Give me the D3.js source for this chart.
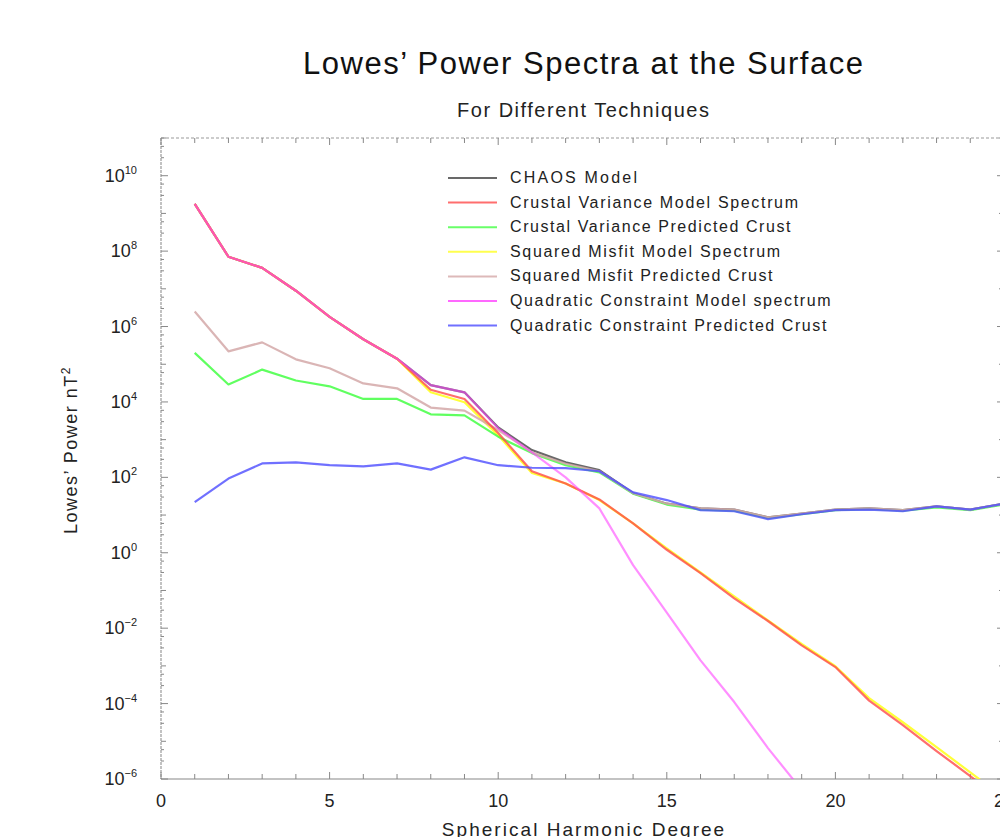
<!DOCTYPE html>
<html><head><meta charset="utf-8">
<script src="https://cdn.jsdelivr.net/npm/d3@7"></script>
<style>body{margin:0;background:#fff;} svg{display:block;font-family:"Liberation Sans",Arial,sans-serif;}</style>
</head><body>
<svg id="c" width="1000" height="837"></svg>
<script>
const degrees = d3.range(1, 26);
const chaos     = [1.8e9,7.1e7,3.6e7,8.9e6,1.8e6,4.6e5,1.4e5,2.8e4,1.8e4,2.1e3,530,250,155,38,20,15,14,8.7,11,14,15,13.5,17,14,20];
const cvModel   = [1.8e9,7.1e7,3.6e7,8.9e6,1.8e6,4.6e5,1.4e5,2.1e4,1.2e4,1.5e3,145,69,26,6.0,1.2,0.29,0.062,0.0155,0.0035,9.3e-4,1.2e-4,2.7e-5,5.5e-6,1.2e-6,2.3e-7];
const cvCrust   = [2.0e5,2.9e4,7.2e4,3.7e4,2.6e4,1.2e4,1.2e4,4.7e3,4.4e3,1.2e3,440,210,135,37,19,14,13,8.3,10.5,13.5,14.5,13,16,13.5,19];
const smModel   = [1.8e9,7.1e7,3.6e7,8.9e6,1.8e6,4.6e5,1.4e5,1.8e4,9.8e3,1.3e3,130,69,25,6.0,1.3,0.30,0.070,0.016,0.0038,9.8e-4,1.4e-4,3.2e-5,7.0e-6,1.5e-6,3.2e-7];
const smCrust   = [2.5e6,2.2e5,3.8e5,1.35e5,7.8e4,3.1e4,2.3e4,7.1e3,5.9e3,1.8e3,460,230,145,38,20,15,14,8.7,11,14,15,13.5,17,14,20];
const qcModel   = [1.8e9,7.1e7,3.6e7,8.9e6,1.8e6,4.6e5,1.4e5,2.8e4,1.8e4,2.0e3,460,100,15,0.47,0.026,1.4e-3,1.1e-4,6.6e-6,5.1e-7,4.5e-8];
const qcCrust   = [22,93,234,250,210,195,234,160,340,210,180,175,145,40,25,13.5,12.6,7.8,10.5,13.5,14,12.6,17,14,20];

const seriesNames = ["CHAOS Model","Crustal Variance Model Spectrum","Crustal Variance Predicted Crust","Squared Misfit Model Spectrum","Squared Misfit Predicted Crust","Quadratic Constraint Model spectrum","Quadratic Constraint Predicted Crust"];
const seriesValues = [chaos, cvModel, cvCrust, smModel, smCrust, qcModel, qcCrust];
const seriesColors = ["#444444","#ff4a4a","#44ff44","#ffff22","#d4a8a8","#ff44ff","#4c4cff"];
const drawOrder = [0,3,2,4,1,5,6];
const seriesOpacity = [0.8,0.8,0.85,0.9,0.85,0.6,0.8];
const xTicks = [0,5,10,15,20,25];
const yTickExps = [-6,-4,-2,0,2,4,6,8,10];

const svg = d3.select("#c");
const x = d3.scaleLinear().domain([0,25]).range([161,1004]);
const y = d3.scaleLog().domain([1e-6,1e11]).range([779,138]);

// stretch a text element to a target width (reference typeface is wider)
function stretch(sel, factor){
  sel.each(function(){
    const w = this.getComputedTextLength();
    d3.select(this).attr("textLength", w*factor).attr("lengthAdjust","spacing");
  });
}

const defs = svg.append("defs");
defs.append("clipPath").attr("id","clip").append("rect")
  .attr("x",x(0)).attr("y",y(1e11)).attr("width",x(25)-x(0)).attr("height",y(1e-6)-y(1e11));

// frame
const frame = svg.append("g").attr("stroke","#9a9a9a").attr("stroke-width",1.2).attr("fill","none");
frame.append("line").attr("x1",x(0)).attr("x2",x(25)).attr("y1",y(1e11)).attr("y2",y(1e11)).attr("stroke-dasharray","3,2");
frame.append("line").attr("x1",x(0)).attr("x2",x(0)).attr("y1",y(1e11)).attr("y2",y(1e-6)).attr("stroke-dasharray","3,1");
frame.append("line").attr("x1",x(0)).attr("x2",x(25)).attr("y1",y(1e-6)).attr("y2",y(1e-6)).attr("stroke","#888");
frame.append("line").attr("x1",x(25)).attr("x2",x(25)).attr("y1",y(1e11)).attr("y2",y(1e-6)).attr("stroke-dasharray","3,1");

// ticks (inward)
const tk = svg.append("g").attr("stroke","#888").attr("stroke-width",1);
d3.range(0,26).forEach(v=>{
  const L = v%5===0?7:5;
  tk.append("line").attr("x1",x(v)).attr("x2",x(v)).attr("y1",y(1e-6)).attr("y2",y(1e-6)-L);
  tk.append("line").attr("x1",x(v)).attr("x2",x(v)).attr("y1",y(1e11)).attr("y2",y(1e11)+L);
});
for(let e=-6;e<=11;e++){
  const L = (e%2===0)?7:5;
  tk.append("line").attr("x1",x(0)).attr("x2",x(0)+L).attr("y1",y(Math.pow(10,e))).attr("y2",y(Math.pow(10,e)));
  tk.append("line").attr("x1",x(25)).attr("x2",x(25)-L).attr("y1",y(Math.pow(10,e))).attr("y2",y(Math.pow(10,e)));
  if(e<11){
    [3,6].forEach(m=>{
      const yy=y(m*Math.pow(10,e));
      tk.append("line").attr("x1",x(0)).attr("x2",x(0)+3).attr("y1",yy).attr("y2",yy);
      tk.append("line").attr("x1",x(25)).attr("x2",x(25)-3).attr("y1",yy).attr("y2",yy);
    });
  }
}

// x tick labels
svg.append("g").selectAll("text").data(xTicks).join("text")
  .attr("x",d=>x(d)).attr("y",807).attr("text-anchor","middle")
  .attr("font-size",18).attr("fill","#222").text(d=>d);

// y tick labels 10^e
const yl = svg.append("g").selectAll("text").data(yTickExps).join("text")
  .attr("x",137).attr("y",d=>y(Math.pow(10,d))+6).attr("text-anchor","end")
  .attr("font-size",18).attr("fill","#222");
yl.append("tspan").text("10");
yl.append("tspan").attr("dy",-8).attr("font-size",11).text(d=>d<0?"\u2212"+(-d):String(d));

// lines
const line = d3.line().x((d,i)=>x(degrees[i])).y(d=>y(d));
const lg = svg.append("g").attr("clip-path","url(#clip)");
drawOrder.forEach(k=>{
  lg.append("path").datum(seriesValues[k]).attr("d",line)
    .attr("fill","none").attr("stroke",seriesColors[k]).attr("stroke-width",2.2)
    .attr("stroke-opacity",seriesOpacity[k]).attr("stroke-linejoin","round");
});

// legend
const leg = svg.append("g");
seriesNames.forEach((n,i)=>{
  const yy = 178 + i*24.6;
  leg.append("line").attr("x1",448).attr("x2",497).attr("y1",yy).attr("y2",yy)
    .attr("stroke",seriesColors[i]).attr("stroke-width",2).attr("stroke-opacity",0.8);
  const t = leg.append("text").attr("x",510).attr("y",yy+5).attr("font-size",16).attr("fill","#222").text(n);
  stretch(t, 1.21);
});

// titles
const t1 = svg.append("text").attr("x",583).attr("y",74).attr("text-anchor","middle").attr("font-size",31).attr("fill","#111")
  .text("Lowes\u2019 Power Spectra at the Surface");
stretch(t1, 1.1);
const t2 = svg.append("text").attr("x",583).attr("y",117).attr("text-anchor","middle").attr("font-size",20).attr("fill","#222")
  .text("For Different Techniques");
stretch(t2, 1.16);
const t3 = svg.append("text").attr("x",583).attr("y",836).attr("text-anchor","middle").attr("font-size",19).attr("fill","#222")
  .text("Spherical Harmonic Degree");
stretch(t3, 1.21);
const yt = svg.append("text").attr("transform","translate(77,450) rotate(-90)").attr("text-anchor","middle")
  .attr("font-size",18).attr("fill","#222");
yt.append("tspan").text("Lowes\u2019 Power nT");
yt.append("tspan").attr("dy",-7).attr("font-size",12).text("2");
yt.attr("letter-spacing",1.5);
</script>
</body></html>
